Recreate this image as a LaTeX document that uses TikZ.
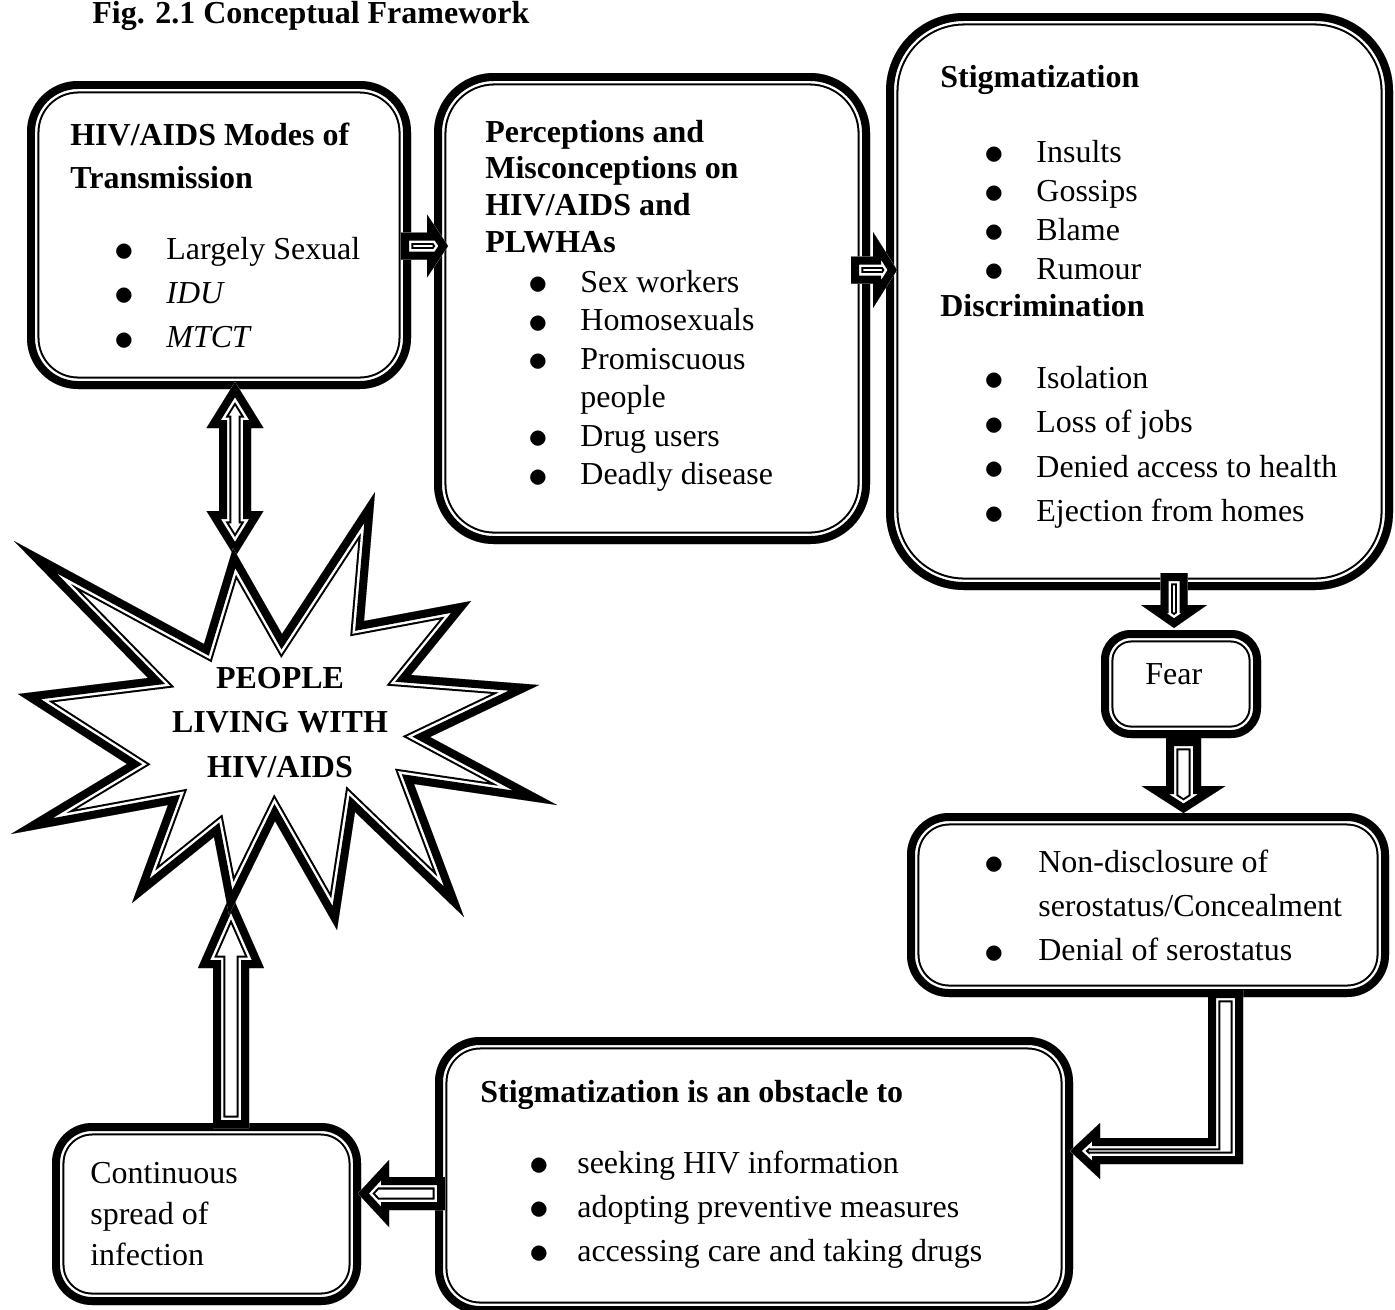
\documentclass[tikz,border=0pt]{standalone}
\usepackage{fontspec}
\setmainfont{Liberation Serif}
\usetikzlibrary{calc}

\newcommand{\pxu}{0.02cm}
\newcommand{\bul}[1][1.03cm]{\makebox[#1][l]{\raisebox{-1.4pt}{\scalebox{1.3}{$\bullet$}}}}
\newcommand{\txtlines}[3][l]{{\renewcommand{\arraystretch}{#2}\begin{tabular}[t]{@{}#1@{}}#3\end{tabular}}}
% thick-thin border, kept inside the path
\newcommand{\ttline}[2][]{%
  \begin{scope}
    \clip[#1] #2;
    \draw[#1, line width=14.2pt] #2;
    \draw[#1, white, line width=11.9pt] #2;
    \draw[#1, line width=9.1pt] #2;
  \end{scope}}
\newcommand{\ttbox}[2][]{\fill[white, #1] #2; \ttline[#1]{#2}}
% from, to, shaft half width, head half width, head length
\newcommand{\blockarrow}[5]{%
  \coordinate (hb) at ($(#2)!#5!(#1)$);
  \ttbox{($(#1)!#3!90:(#2)$) -- ($(hb)!#3!90:(#2)$) -- ($(hb)!#4!90:(#2)$) -- (#2)
    -- ($(hb)!#4!-90:(#2)$) -- ($(hb)!#3!-90:(#2)$) -- ($(#1)!#3!-90:(#2)$) -- cycle}}
\newcommand{\dblarrow}[5]{%
  \coordinate (ha) at ($(#1)!#5!(#2)$);
  \coordinate (hb) at ($(#2)!#5!(#1)$);
  \ttbox{(#1) -- ($(ha)!#4!90:(#2)$) -- ($(ha)!#3!90:(#2)$) -- ($(hb)!#3!90:(#2)$)
    -- ($(hb)!#4!90:(#2)$) -- (#2) -- ($(hb)!#4!-90:(#2)$) -- ($(hb)!#3!-90:(#2)$)
    -- ($(ha)!#3!-90:(#2)$) -- ($(ha)!#4!-90:(#2)$) -- cycle}}

\tikzset{
  boxsize/.style 2 args={rectangle, inner sep=0pt, outer sep=0pt,
    minimum width=#1*\pxu, minimum height=#2*\pxu},
  txt/.style={inner sep=0pt, anchor=base west, font=\fontsize{18.2pt}{20pt}\selectfont},
  txtb/.style={txt, font=\fontsize{18.2pt}{20pt}\selectfont\bfseries}
}

\begin{document}
\begin{tikzpicture}[x=0.02cm, y=-0.02cm]
\useasboundingbox (0,0) rectangle (1395,1309);

% boxes
\node[boxsize={384}{308}] (modes) at (219,235) {};
\node[boxsize={436}{471}] (perc) at (652,308.5) {};
\node[boxsize={507}{577}] (stig) at (1139.5,301.5) {};
\node[boxsize={160}{108}] (fear) at (1181,684) {};
\node[boxsize={482}{184}] (discl) at (1148,905) {};
\node[boxsize={638}{277}] (obst) at (754,1175.5) {};
\node[boxsize={309}{182}] (cont) at (206.5,1214) {};

\ttbox[rounded corners=1.02cm]{(modes.north west) rectangle (modes.south east)}
\ttbox[rounded corners=1.2cm]{(perc.north west) rectangle (perc.south east)}
\ttbox[rounded corners=1.56cm]{(stig.north west) rectangle (stig.south east)}
\ttbox[rounded corners=0.6cm]{(fear.north west) rectangle (fear.south east)}
\ttbox[rounded corners=0.84cm]{(discl.north west) rectangle (discl.south east)}
\ttbox[rounded corners=0.9cm]{(obst.north west) rectangle (obst.south east)}
\ttbox[rounded corners=0.8cm]{(cont.north west) rectangle (cont.south east)}

% arrows
\coordinate (stop) at (235,557);
\coordinate (sbot) at (231,893);
\blockarrow{$(modes.east)+(-10,11)$}{$(perc.west)+(14,-62.5)$}{0.27cm}{0.63cm}{0.42cm}
\blockarrow{$(perc.east)+(-19,-38.5)$}{$(stig.west)+(11,-31.5)$}{0.27cm}{0.76cm}{0.48cm}
\blockarrow{$(stig.south)+(34.5,-17)$}{$(fear.north)+(-7,-2)$}{0.27cm}{0.66cm}{0.46cm}
\blockarrow{$(fear.south)+(2.5,0)$}{$(discl.north)+(35.5,0)$}{0.35cm}{0.84cm}{0.54cm}
\coordinate (e1) at ($(discl.south)+(77.5,-7)$);
\coordinate (e2) at ($(obst.east)+(-3,-24.5)$);
\coordinate (e3) at (e1 |- e2);
\ttbox{($(e1)+(-17.5,0)$) -- ($(e1)+(17.5,0)$) -- ($(e3)+(17.5,13)$) -- ($(e2)+(30,13)$)
  -- ($(e2)+(30,28)$) -- (e2) -- ($(e2)+(30,-28)$) -- ($(e2)+(30,-13)$)
  -- ($(e3)+(-17.5,-13)$) -- cycle}
\blockarrow{$(obst.west)+(10,18)$}{$(cont.east)+(-3,-20.5)$}{0.33cm}{0.67cm}{0.62cm}
\blockarrow{$(cont.north)+(24.5,5)$}{sbot}{0.36cm}{0.66cm}{1.5cm}
\dblarrow{$(modes.south)+(16,-7)$}{stop}{0.32cm}{0.57cm}{0.92cm}

% star
\ttline{(233,548) -- (282,634) -- (375,492) -- (364,621) -- (471,601) -- (411,675)
  -- (539,685) -- (430,737) -- (557,805) -- (414,784) -- (464,917) -- (355,812)
  -- (337,930) -- (275,821) -- (229,915) -- (214,837) -- (132,903) -- (168,805)
  -- (11,834) -- (127,764) -- (18,694) -- (148,678) -- (14,541) -- (204,644) -- cycle}

% texts
\node[txtb] (title) at (92,23) {Fig. 2.1 Conceptual Framework};
\node[txtb] (modesHead) at (70,145) {\txtlines{1.252}{HIV/AIDS Modes of\\ Transmission}};
\node[txt] (modesList) at (114.6,259) {\txtlines{1.266}{\bul Largely Sexual\\ \bul\textit{IDU}\\ \bul\textit{MTCT}}};
\node[txtb] (percHead) at (485,142) {\txtlines{1.044}{Perceptions and\\ Misconceptions on\\ HIV/AIDS and\\ PLWHAs}};
\node[txt] (percList) at (528.6,292) {\txtlines{1.098}{\bul Sex workers\\ \bul Homosexuals\\ \bul Promiscuous\\ \hspace*{1.03cm}people\\ \bul Drug users\\ \bul Deadly disease}};
\node[txtb] (stigHead) at (940,87) {Stigmatization};
\node[txt] (stigList) at (984.6,162) {\txtlines{1.11}{\bul Insults\\ \bul Gossips\\ \bul Blame\\ \bul Rumour}};
\node[txtb] (discrHead) at (940,316) {Discrimination};
\node[txt] (discrList) at (984.6,388) {\txtlines{1.27}{\bul Isolation\\ \bul Loss of jobs\\ \bul Denied access to health\\ \bul Ejection from homes}};
\node[txt] (fearText) at (1145,684) {Fear};
\node[txt] (disclList) at (984.6,872) {\txtlines{1.266}{\bul[1.068cm]Non-disclosure of\\ \hspace*{1.068cm}serostatus/Concealment\\ \bul[1.068cm]Denial of serostatus}};
\node[txtb] (obstHead) at (480,1102) {Stigmatization is an obstacle to};
\node[txt] (obstList) at (529.6,1173) {\txtlines{1.252}{\bul[0.948cm]seeking HIV information\\ \bul[0.948cm]adopting preventive measures\\ \bul[0.948cm]accessing care and taking drugs}};
\node[txt] (contText) at (90,1183) {\txtlines{1.18}{Continuous\\ spread of\\ infection}};
\node[txtb, anchor=base] (plwha) at (280,688) {\txtlines[c]{1.28}{PEOPLE\\ LIVING WITH\\ HIV/AIDS}};
\end{tikzpicture}
\end{document}
